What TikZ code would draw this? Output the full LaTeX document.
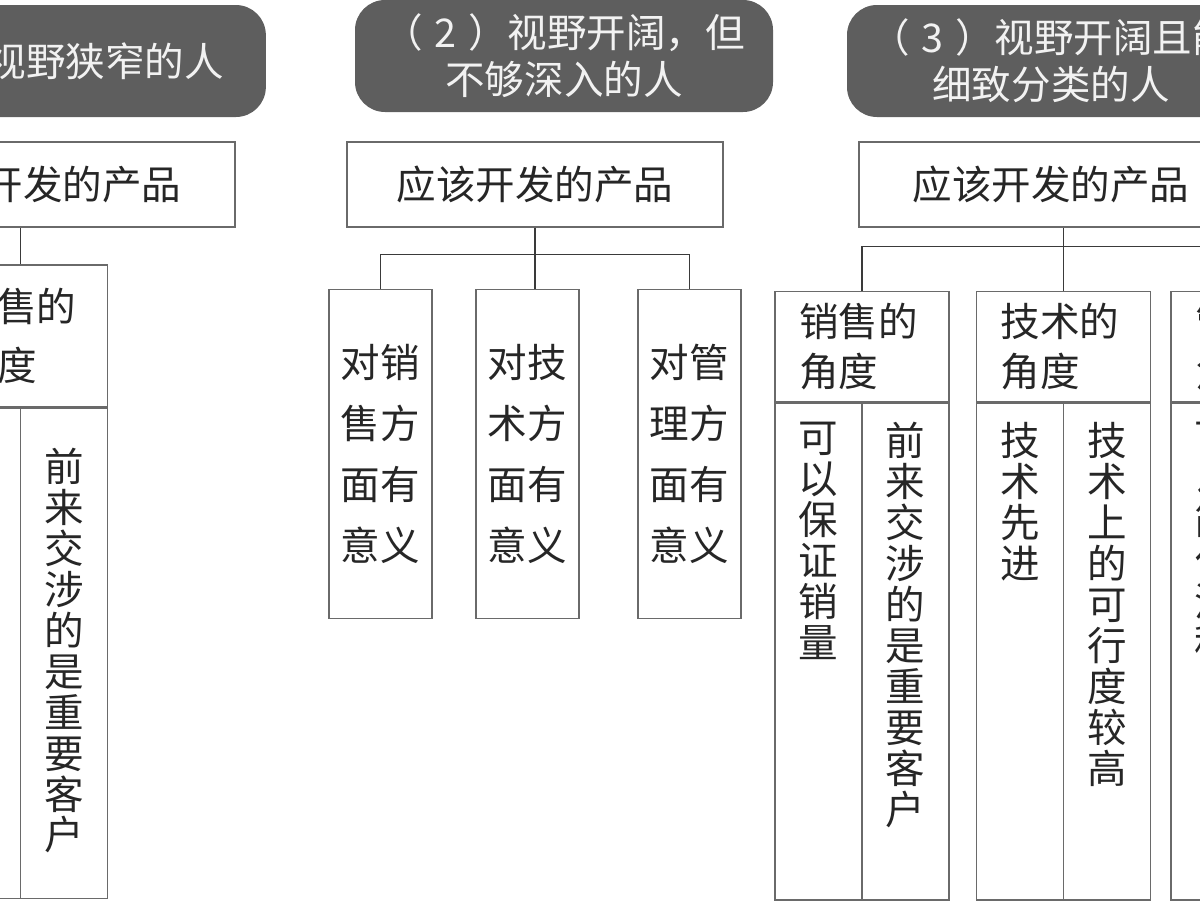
\documentclass[tikz,border=0pt]{standalone}
\usepackage{fontspec}
\newfontfamily\cjk{Noto Sans CJK SC}
\usetikzlibrary{positioning}
\definecolor{headgray}{HTML}{5E5E5E}
\definecolor{boxline}{HTML}{6A6A6A}
\definecolor{wireline}{HTML}{3A3A3A}
\definecolor{inkgray}{HTML}{262626}

\begin{document}
\begin{tikzpicture}[
  every node/.style={font=\cjk\fontsize{22.5}{22.8}\selectfont, text=inkgray},
  grouphead/.style={fill=headgray, rounded corners=0.6cm, text=white!95!black, align=center, minimum width=8.16cm, minimum height=2.24cm, font=\cjk\fontsize{22.5}{26.8}\selectfont},
  prodbox/.style={draw=boxline, line width=0.8pt, minimum width=7.68cm, minimum height=1.7cm},
  leaf/.style={draw=boxline, line width=0.8pt, minimum width=2.06cm, minimum height=6.58cm, align=center, font=\cjk\fontsize{22.5}{34.7}\selectfont},
  viewhead/.style={draw=boxline, line width=0.8pt, minimum width=3.48cm, minimum height=2.2cm, text width=2.52cm, inner xsep=0.48cm, align=left, font=\cjk\fontsize{22.5}{28.5}\selectfont},
  viewcol/.style={draw=boxline, line width=0.8pt, minimum width=1.74cm, minimum height=9.94cm},
  vtxt/.style={align=center, inner sep=0pt, font=\cjk\fontsize{22.5}{23.3}\selectfont},
  wire/.style={draw=wireline, line width=0.8pt}
]
  \useasboundingbox (0,0) rectangle (24,-18);
  \clip (0,0) rectangle (24,-18);

  % (1) narrow view
  \node[grouphead] (head1) at (1.22,-1.22) {（\hspace{.3em}1\hspace{.3em}）视野狭窄的人\hspace{0.72cm}};
  \node[prodbox] (prod1) at (0.86,-3.69) {应该开发的产品};
  \node[viewhead, minimum height=2.84cm, font=\cjk\fontsize{22.5}{34}\selectfont] (sales1) at (0.41,-6.72) {销售的\\角度};
  \node[viewcol, minimum height=9.8cm, anchor=north west] (sales1L) at (sales1.south west) {};
  \node[viewcol, minimum height=9.8cm, anchor=north east] (sales1R) at (sales1.south east) {};
  \node[vtxt, below=0.8cm of sales1R.north] (sales1Rt) {前\\来\\交\\涉\\的\\是\\重\\要\\客\\户};

  % (2) wide but shallow
  \node[grouphead, minimum width=8.36cm] (head2) at (11.28,-1.12) {（\hspace{.3em}2\hspace{.3em}）视野开阔，但\\不够深入的人};
  \node[prodbox, minimum width=7.52cm] (prod2) at (10.70,-3.69) {应该开发的产品};
  \node[leaf, below=1.22cm of prod2, xshift=-3.09cm] (sell2) {对销\\售方\\面有\\意义};
  \node[leaf, below=1.22cm of prod2, xshift=-0.15cm] (tech2) {对技\\术方\\面有\\意义};
  \node[leaf, below=1.22cm of prod2, xshift=3.09cm] (mgmt2) {对管\\理方\\面有\\意义};

  % (3) wide and sorted
  \node[grouphead] (head3) at (21.02,-1.22) {（\hspace{.3em}3\hspace{.3em}）视野开阔且能\\细致分类的人};
  \node[prodbox] (prod3) at (21.02,-3.69) {应该开发的产品};
  \node[viewhead, below=1.26cm of prod3, xshift=-3.78cm] (sales3) {销售的\\角度};
  \node[viewhead, below=1.26cm of prod3, xshift=0.25cm] (tech3) {技术的\\角度};
  \node[viewhead, below=1.26cm of prod3, xshift=4.14cm] (mgmt3) {管理的\\角度};
  \node[viewcol, anchor=north west] (sales3L) at (sales3.south west) {};
  \node[viewcol, anchor=north east] (sales3R) at (sales3.south east) {};
  \node[viewcol, anchor=north west] (tech3L) at (tech3.south west) {};
  \node[viewcol, anchor=north east] (tech3R) at (tech3.south east) {};
  \node[viewcol, anchor=north west] (mgmt3L) at (mgmt3.south west) {};
  \node[viewcol, anchor=north east] (mgmt3R) at (mgmt3.south east) {};
  \node[vtxt, below=0.4cm of sales3L.north] (sales3Lt) {可\\以\\保\\证\\销\\量};
  \node[vtxt, below=0.4cm of sales3R.north] (sales3Rt) {前\\来\\交\\涉\\的\\是\\重\\要\\客\\户};
  \node[vtxt, below=0.4cm of tech3L.north] (tech3Lt) {技\\术\\先\\进};
  \node[vtxt, below=0.4cm of tech3R.north] (tech3Rt) {技\\术\\上\\的\\可\\行\\度\\较\\高};
  \node[vtxt, below=0.4cm of mgmt3L.north] (mgmt3Lt) {可\\以\\简\\化\\流\\程};

  % Connectors
  \draw[wire] (sales1.north) -- (sales1.north |- prod1.south);
  \draw[wire] (prod2.south) -- (prod2.south |- tech2.north);
  \draw[wire] (sell2.north) |- ([yshift=0.68cm]tech2.north) -| (mgmt2.north);
  \draw[wire] (tech3.north) -- (tech3.north |- prod3.south);
  \draw[wire] (sales3.north) |- ([yshift=0.88cm]tech3.north) -| (mgmt3.north);
\end{tikzpicture}
\end{document}
